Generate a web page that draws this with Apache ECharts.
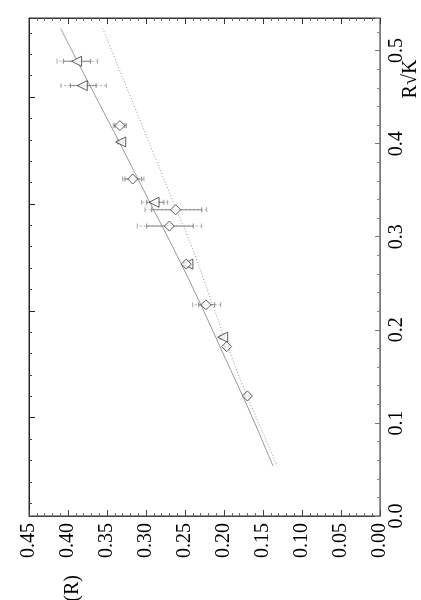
<!DOCTYPE html>
<html>
<head>
<meta charset="utf-8">
<script src="https://cdn.jsdelivr.net/npm/echarts@6/dist/echarts.min.js"></script>
<style>
  html, body { margin: 0; padding: 0; background: #fff; }
  #chart { width: 421px; height: 600px; }
</style>
</head>
<body>
<div id="chart"></div>
<script>
// triangles (pointing left)
var triR = [0.4885, 0.4624, 0.4018, 0.337, 0.2706, 0.1921]
var triA = [0.389, 0.3817, 0.3324, 0.2897, 0.2463, 0.2017]
var triInLo = [0.371, 0.364, 0.330, 0.277, 0.244, 0.200]
var triInHi = [0.406, 0.397, 0.335, 0.299, 0.249, 0.204]
var triOutLo = [0.362, 0.351, 0.329, 0.2722, 0.243, 0.199]
var triOutHi = [0.414, 0.409, 0.336, 0.3055, 0.250, 0.205]

// diamonds
var diaR = [0.4194, 0.362, 0.329, 0.3115, 0.2706, 0.2269, 0.182, 0.129]
var diaA = [0.3335, 0.317, 0.262, 0.2701, 0.2485, 0.2231, 0.1966, 0.170]
var diaInLo = [0.327, 0.3055, 0.2286, 0.2394, 0.246, 0.212, 0.194, 0.1675]
var diaInHi = [0.340, 0.327, 0.2927, 0.2991, 0.251, 0.2325, 0.199, 0.1725]
var diaOutLo = [0.325, 0.3026, 0.2222, 0.2286, 0.245, 0.2042, 0.193, 0.166]
var diaOutHi = [0.342, 0.330, 0.3013, 0.3112, 0.252, 0.2401, 0.200, 0.174]

// curves
var solidR = [0.5237, 0.4882, 0.4022, 0.3398, 0.2806, 0.2290, 0.1677, 0.1247, 0.0892, 0.0538]
var solidA = [0.4094, 0.3878, 0.3346, 0.2968, 0.2606, 0.2308, 0.1974, 0.1737, 0.1551, 0.1372]
var dotR = [0.5237, 0.3301, 0.2860, 0.2290, 0.1785, 0.1290, 0.0892, 0.0532]
var dotA = [0.3555, 0.2615, 0.2397, 0.2154, 0.1936, 0.1705, 0.1500, 0.1314]

// left frame scale (its labels fall outside the page)
var leftMajor = [1, 2, 3, 4]
var leftMinor = [0.2, 0.4, 0.6, 0.8, 1.2, 1.4, 1.6, 1.8, 2.2, 2.4, 2.6, 2.8, 3.2, 3.4, 3.6, 3.8, 4.2, 4.4, 4.6]

// where the α(R) title sits along the bottom axis
var alphaTitleAt = [0.394]

var serif = 'Liberation Serif'

function pairs(xs, ys) {
  return xs.map(function (x, i) { return [x, ys[i]] })
}

function bars(lo, hi, r) {
  return lo.map(function (l, i) { return [l, hi[i], r[i]] })
}

function barItem(dash, color) {
  return function (params, api) {
    var p1 = api.coord([api.value(0), api.value(2)])
    var p2 = api.coord([api.value(1), api.value(2)])
    var h = 2.5
    var capStyle = { stroke: color, lineWidth: 1 }
    return {
      type: 'group',
      children: [
        { type: 'line', shape: { x1: p1[0], y1: p1[1], x2: p2[0], y2: p2[1] }, style: { stroke: color, lineWidth: 1, lineDash: dash } },
        { type: 'line', shape: { x1: p1[0], y1: p1[1] - h, x2: p1[0], y2: p1[1] + h }, style: capStyle },
        { type: 'line', shape: { x1: p2[0], y1: p2[1] - h, x2: p2[0], y2: p2[1] + h }, style: capStyle }
      ]
    }
  }
}

function errSeries(lo, hi, r, dash, color) {
  return {
    type: 'custom',
    xAxisIndex: 0,
    yAxisIndex: 0,
    renderItem: barItem(dash, color),
    encode: { x: [0, 1], y: 2 },
    data: bars(lo, hi, r),
    silent: true,
    z: 3
  }
}

// rotated title, centred on (cx, cy)
function vText(text, cx, cy, size) {
  return {
    type: 'group',
    x: cx,
    y: cy,
    rotation: Math.PI / 2,
    children: [{
      type: 'text',
      x: 0,
      y: 0,
      style: { text: text, font: size + 'px "Liberation Serif"', fill: '#000', align: 'center', verticalAlign: 'middle' }
    }]
  }
}

var chart = echarts.init(document.getElementById('chart'))

var option = {
  animation: false,
  backgroundColor: '#fff',
  grid: {
    left: 29, top: 18, width: 351, height: 498,
    containLabel: false, outerBoundsMode: 'none',
    show: true, borderColor: '#333', borderWidth: 1
  },
  xAxis: [
    {
      type: 'value',
      position: 'bottom',
      min: 0,
      max: 0.45,
      interval: 0.05,
      inverse: true,
      axisLine: { onZero: false, lineStyle: { color: '#444' } },
      axisTick: { inside: true, length: 6, lineStyle: { color: '#444' } },
      minorTick: { show: true, splitNumber: 5, length: 3, lineStyle: { color: '#666' } },
      splitLine: { show: false },
      axisLabel: {
        rotate: 90,
        margin: 7,
        fontFamily: serif,
        fontSize: 20,
        color: '#000',
        formatter: function (v) { return v.toFixed(2) }
      }
    },
    {
      type: 'value',
      position: 'top',
      min: 0,
      max: 0.45,
      interval: 0.05,
      inverse: true,
      axisLine: { onZero: false, lineStyle: { color: '#333' } },
      axisTick: { inside: true, length: 6, lineStyle: { color: '#333' } },
      minorTick: { show: true, splitNumber: 5, length: 3, lineStyle: { color: '#666' } },
      splitLine: { show: false },
      axisLabel: { show: false }
    },
    {
      // carries only the α(R) title, below the tick labels
      type: 'value',
      position: 'bottom',
      offset: 59,
      min: 0,
      max: 0.45,
      inverse: true,
      axisLine: { show: false, onZero: false },
      axisTick: { show: false },
      splitLine: { show: false },
      axisLabel: {
        customValues: alphaTitleAt,
        rotate: 90,
        margin: 0,
        fontFamily: serif,
        fontSize: 20,
        color: '#000',
        formatter: function () { return 'α(R)' }
      }
    }
  ],
  yAxis: [
    {
      type: 'value',
      position: 'right',
      min: 0,
      max: 0.535,
      interval: 0.1,
      axisLine: { show: true, onZero: false, lineStyle: { color: '#777' } },
      axisTick: { show: true, inside: true, length: 5, lineStyle: { color: '#777' } },
      minorTick: { show: true, splitNumber: 5, length: 3, lineStyle: { color: '#888' } },
      splitLine: { show: false },
      axisLabel: {
        rotate: 90,
        margin: 7,
        fontFamily: serif,
        fontSize: 20,
        color: '#000',
        showMaxLabel: false,
        formatter: function (v) { return v.toFixed(1) }
      }
    },
    {
      type: 'value',
      position: 'left',
      min: 0.08,
      max: 4.74,
      axisLine: { show: true, onZero: false, lineStyle: { color: '#222' } },
      axisTick: { show: true, inside: true, length: 6, customValues: leftMajor, lineStyle: { color: '#222' } },
      splitLine: { show: false },
      axisLabel: { show: false }
    },
    {
      type: 'value',
      position: 'left',
      min: 0.08,
      max: 4.74,
      axisLine: { show: false, onZero: false },
      axisTick: { show: true, inside: true, length: 3, customValues: leftMinor, lineStyle: { color: '#444' } },
      splitLine: { show: false },
      axisLabel: { show: false }
    }
  ],
  graphic: [
    vText('R√K', 411, 79, 20)
  ],
  series: [
    {
      type: 'line',
      data: pairs(solidA, solidR),
      smooth: 0.3,
      showSymbol: false,
      lineStyle: { color: '#999', width: 1 },
      z: 1
    },
    {
      type: 'line',
      data: pairs(dotA, dotR),
      smooth: 0.3,
      showSymbol: false,
      lineStyle: { color: '#999', width: 1, type: [1, 2] },
      z: 1
    },
    errSeries(triOutLo, triOutHi, triR, [2, 2], '#aaa'),
    errSeries(diaOutLo, diaOutHi, diaR, [2, 2], '#aaa'),
    errSeries(triInLo, triInHi, triR, null, '#888'),
    errSeries(diaInLo, diaInHi, diaR, null, '#888'),
    {
      type: 'scatter',
      data: pairs(triA, triR),
      symbol: 'triangle',
      symbolRotate: 90,
      symbolSize: 10,
      itemStyle: { color: '#fff', borderColor: '#333', borderWidth: 1 },
      z: 5
    },
    {
      type: 'scatter',
      data: pairs(diaA, diaR),
      symbol: 'diamond',
      symbolSize: 10,
      itemStyle: { color: '#fff', borderColor: '#333', borderWidth: 1 },
      z: 5
    }
  ]
}

chart.setOption(option)
</script>
</body>
</html>
